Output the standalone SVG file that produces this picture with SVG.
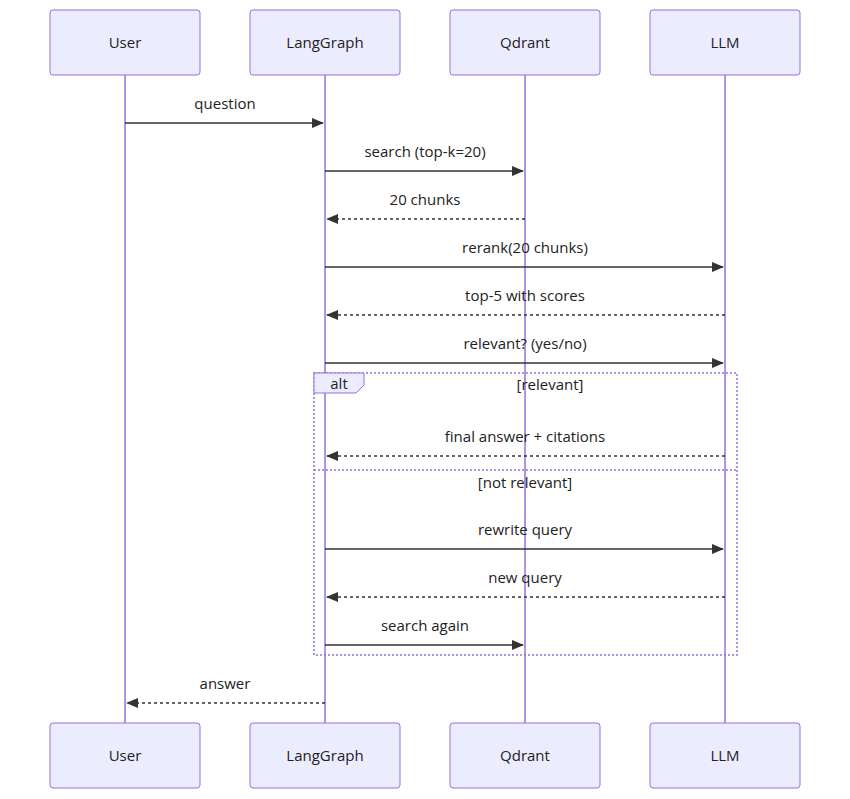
<svg xmlns="http://www.w3.org/2000/svg" width="850" height="799" viewBox="0 0 850 799">
<style>
.actor{fill:#ECECFF;stroke:#9370DB;stroke-width:1}
.life{stroke:#9370DB;stroke-width:1.5}
text{font-family:"Open Sans","DejaVu Sans",sans-serif;font-size:15px;fill:#222;text-anchor:middle}
.m{stroke:#333;stroke-width:1.5;fill:none}
.d{stroke-dasharray:3,3}
.loop{fill:none;stroke:#9370DB;stroke-width:1.5;stroke-dasharray:2,2}
</style>
<defs>
<marker id="a" viewBox="0 0 12 12" refX="11" refY="6" markerWidth="8" markerHeight="8" orient="auto"><path d="M0,1 L12,6 L0,11 z" fill="#333"/></marker>
</defs>
<g id="lifelines">
<line class="life" x1="125" y1="75" x2="125" y2="723"/>
<line class="life" x1="325" y1="75" x2="325" y2="723"/>
<line class="life" x1="525" y1="75" x2="525" y2="723"/>
<line class="life" x1="725" y1="75" x2="725" y2="723"/>
</g>
<g id="user"><rect class="actor" x="50" y="10" width="150" height="65" rx="3"/><text x="125" y="48">User</text><rect class="actor" x="50" y="723" width="150" height="65" rx="3"/><text x="125" y="761">User</text></g>
<g id="langgraph"><rect class="actor" x="250" y="10" width="150" height="65" rx="3"/><text x="325" y="48">LangGraph</text><rect class="actor" x="250" y="723" width="150" height="65" rx="3"/><text x="325" y="761">LangGraph</text></g>
<g id="qdrant"><rect class="actor" x="450" y="10" width="150" height="65" rx="3"/><text x="525" y="48">Qdrant</text><rect class="actor" x="450" y="723" width="150" height="65" rx="3"/><text x="525" y="761">Qdrant</text></g>
<g id="llm"><rect class="actor" x="650" y="10" width="150" height="65" rx="3"/><text x="725" y="48">LLM</text><rect class="actor" x="650" y="723" width="150" height="65" rx="3"/><text x="725" y="761">LLM</text></g>
<g id="alt">
<rect class="loop" x="314" y="373" width="423" height="282"/>
<line class="loop" x1="314" y1="470" x2="737" y2="470"/>
<path d="M314,373 H364 V385 L356,393 H314 Z" fill="#ECECFF" stroke="#9370DB"/>
<text x="339" y="389">alt</text>
<text x="550" y="390">[relevant]</text>
<text x="525" y="488">[not relevant]</text>
</g>
<g id="connectors">
<line class="m" x1="125" y1="123" x2="323" y2="123" marker-end="url(#a)"/><text x="225" y="109">question</text>
<line class="m" x1="325" y1="171" x2="523" y2="171" marker-end="url(#a)"/><text x="425" y="157">search (top-k=20)</text>
<line class="m d" x1="525" y1="219" x2="327" y2="219" marker-end="url(#a)"/><text x="425" y="205">20 chunks</text>
<line class="m" x1="325" y1="267" x2="723" y2="267" marker-end="url(#a)"/><text x="525" y="253">rerank(20 chunks)</text>
<line class="m d" x1="725" y1="315" x2="327" y2="315" marker-end="url(#a)"/><text x="525" y="301">top-5 with scores</text>
<line class="m" x1="325" y1="363" x2="723" y2="363" marker-end="url(#a)"/><text x="525" y="349">relevant? (yes/no)</text>
<line class="m d" x1="725" y1="456" x2="327" y2="456" marker-end="url(#a)"/><text x="525" y="442">final answer + citations</text>
<line class="m" x1="325" y1="549" x2="723" y2="549" marker-end="url(#a)"/><text x="525" y="535">rewrite query</text>
<line class="m d" x1="725" y1="597" x2="327" y2="597" marker-end="url(#a)"/><text x="525" y="583">new query</text>
<line class="m" x1="325" y1="645" x2="523" y2="645" marker-end="url(#a)"/><text x="425" y="631">search again</text>
<line class="m d" x1="325" y1="703" x2="127" y2="703" marker-end="url(#a)"/><text x="225" y="689">answer</text>
</g>
</svg>
